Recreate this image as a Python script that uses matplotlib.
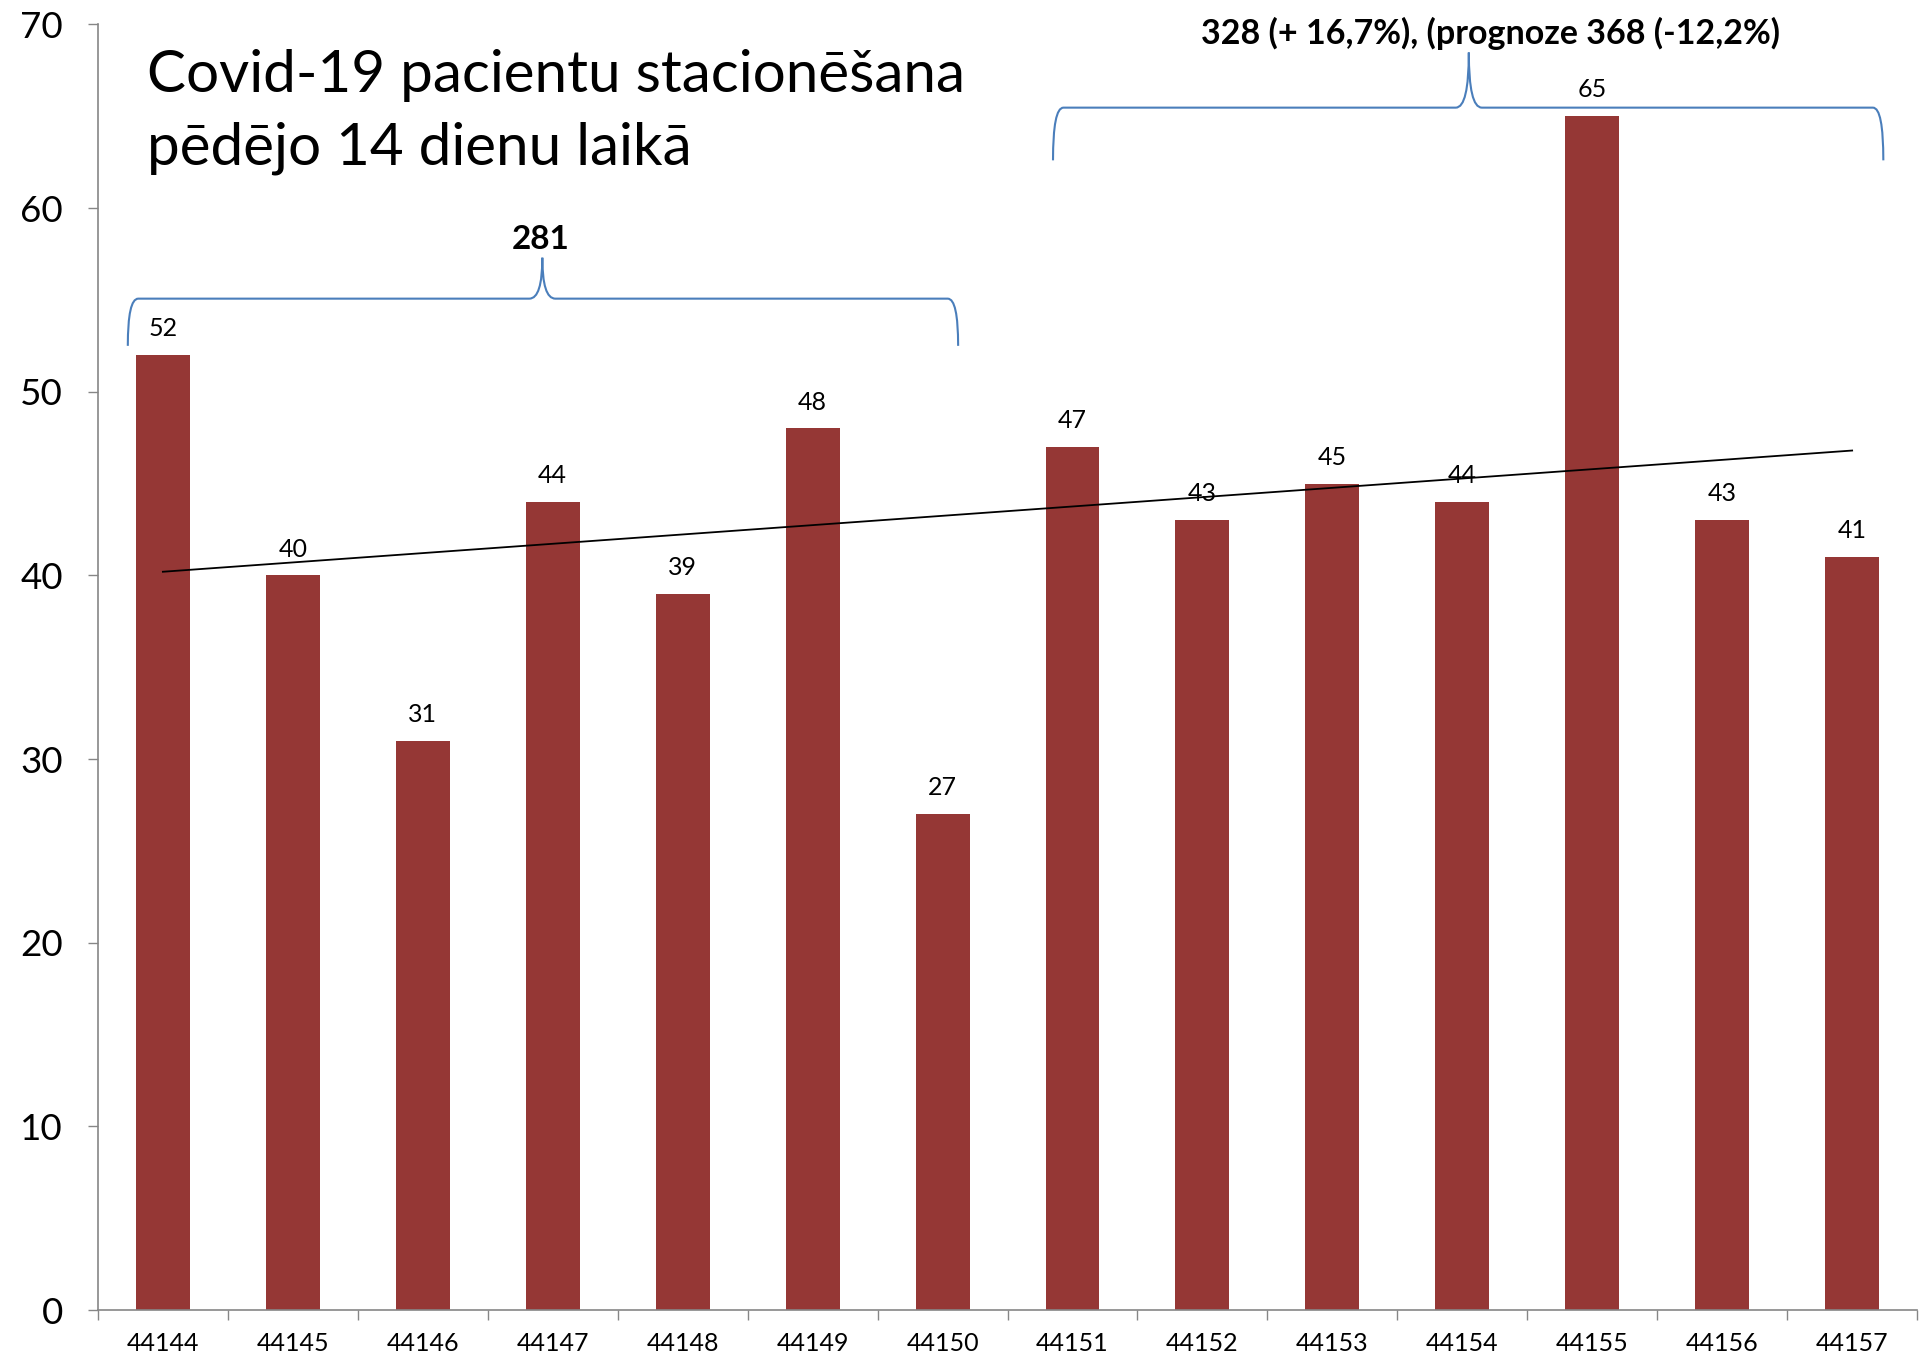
import numpy as np
import matplotlib
matplotlib.use('Agg')
from matplotlib import pyplot as plt
from matplotlib.path import Path
from matplotlib.patches import PathPatch

plt.rcParams['font.family'] = ['Lato', 'DejaVu Sans']

days = ['44144', '44145', '44146', '44147', '44148', '44149', '44150',
        '44151', '44152', '44153', '44154', '44155', '44156', '44157']
patients = [52, 40, 31, 44, 39, 48, 27, 47, 43, 45, 44, 65, 43, 41]
title = 'Covid-19 pacientu stacionēšana\npēdējo 14 dienu laikā'
week1_label = '281'
week2_label = '328 (+ 16,7%), (prognoze 368 (-12,2%)'

bar_color = '#953735'
brace_color = '#4a7ebb'
axis_color = '#868686'


def brace(ax, x0, x1, xm, ytip, yh, ypeak):
    """curly brace opening downward, drawn in data coords"""
    ex = 0.08   # end curl width
    mx = 0.10   # cusp half width
    verts = [(x0, ytip), (x0, yh), (x0 + ex, yh),
             (xm - mx, yh),
             (xm, yh), (xm, ypeak),
             (xm, yh), (xm + mx, yh),
             (x1 - ex, yh),
             (x1, yh), (x1, ytip)]
    codes = [Path.MOVETO, Path.CURVE3, Path.CURVE3,
             Path.LINETO,
             Path.CURVE3, Path.CURVE3,
             Path.CURVE3, Path.CURVE3,
             Path.LINETO,
             Path.CURVE3, Path.CURVE3]
    ax.add_patch(PathPatch(Path(verts, codes), fill=False, ec=brace_color,
                           lw=1.5, clip_on=False))


fig = plt.figure(figsize=(19.2, 13.58), dpi=100)
ax = fig.add_axes([0.0510, 0.0353, 0.9475, 0.9467])

x = np.arange(len(days))
ax.bar(x, patients, width=0.415, color=bar_color, zorder=2)

for xi, v in zip(x, patients):
    ax.annotate(str(v), (xi, v), xytext=(0, 19), textcoords='offset points',
                ha='center', va='center', fontsize=18, zorder=4)

# linear trendline
k, b = np.polyfit(x, patients, 1)
ax.plot([x[0], x[-1]], [k * x[0] + b, k * x[-1] + b], color='black', lw=1.3, zorder=3)

ax.set_xlim(-0.5, len(days) - 0.5)
ax.set_ylim(0, 70)
ax.set_yticks(np.arange(0, 71, 10))
ax.tick_params(axis='y', labelsize=26.5, length=7, width=1, color=axis_color, pad=18)

ax.set_xticks(np.arange(-0.5, len(days), 1))
ax.set_xticklabels([])
ax.set_xticks(x, minor=True)
ax.set_xticklabels(days, minor=True)
ax.tick_params(axis='x', which='major', length=7, width=1, color=axis_color)
ax.tick_params(axis='x', which='minor', length=0, labelsize=18, pad=16)

for s in ['top', 'right']:
    ax.spines[s].set_visible(False)
for s in ['left', 'bottom']:
    ax.spines[s].set_color(axis_color)
    ax.spines[s].set_linewidth(1.2)

ax.text(-0.12, 65.23, title, ha='left', va='center', fontsize=42, linespacing=1.46)

brace(ax, -0.27, 6.12, 2.92, 52.5, 55.07, 57.3)
brace(ax, 6.85, 13.24, 10.05, 62.6, 65.47, 68.47)
ax.text(2.91, 58.3, week1_label, ha='center', va='center', fontsize=24,
        fontweight='bold')
ax.text(10.22, 69.5, week2_label, ha='center', va='center', fontsize=24.5,
        fontweight='bold', clip_on=False)

fig.savefig('out.png', dpi=100)
